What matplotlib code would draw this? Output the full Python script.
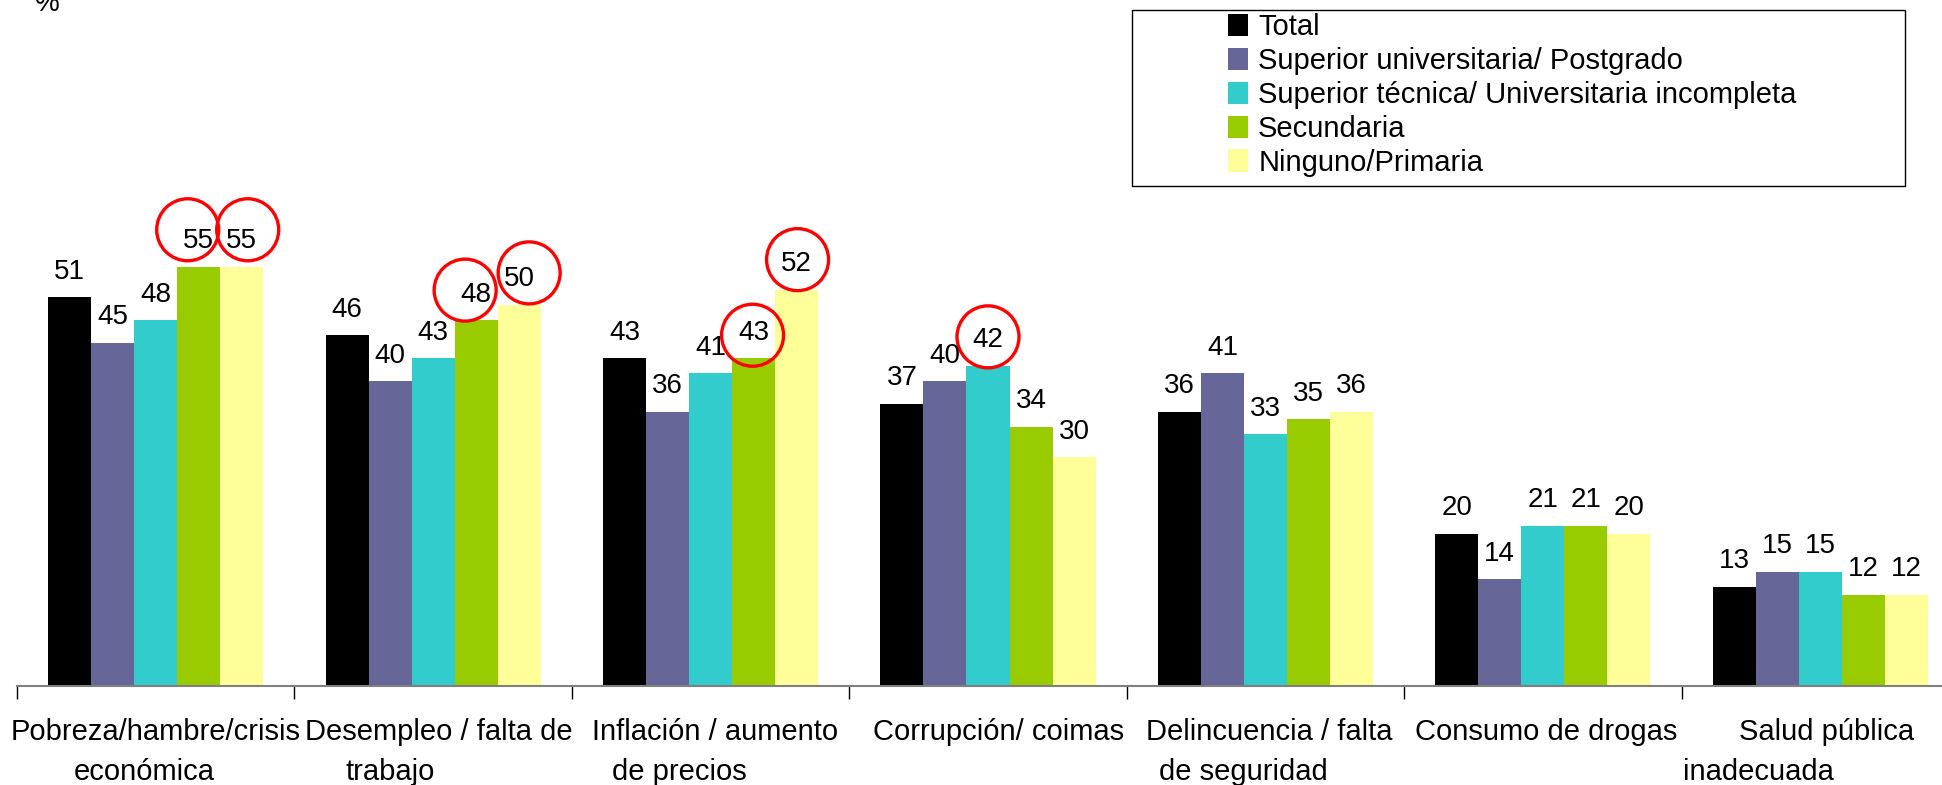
import matplotlib
matplotlib.use("Agg")
import matplotlib.pyplot as plt
import matplotlib.transforms as mtransforms
from matplotlib.patches import Rectangle, Circle
import numpy as np

plt.rcParams["font.family"] = ["Liberation Sans", "DejaVu Sans"]

# datos
categorias = [
    ["Pobreza/hambre/crisis", "económica"],
    ["Desempleo / falta de", "trabajo"],
    ["Inflación / aumento", "de precios"],
    ["Corrupción/ coimas"],
    ["Delincuencia / falta", "de seguridad"],
    ["Consumo de drogas"],
    ["Salud pública", "inadecuada"],
]
series = [
    "Total",
    "Superior universitaria/ Postgrado",
    "Superior técnica/ Universitaria incompleta",
    "Secundaria",
    "Ninguno/Primaria",
]
total = [51, 46, 43, 37, 36, 20, 13]
universitaria = [45, 40, 36, 40, 41, 14, 15]
tecnica = [48, 43, 41, 42, 33, 21, 15]
secundaria = [55, 48, 43, 34, 35, 21, 12]
primaria = [55, 50, 52, 30, 36, 20, 12]
# (categoria, serie) de los valores marcados con circulo rojo
marcados = [(0, 3), (0, 4), (1, 3), (1, 4), (2, 3), (2, 4), (3, 2)]

valores = [total, universitaria, tecnica, secundaria, primaria]
colores = ["#000000", "#666699", "#33CCCC", "#99CC00", "#FFFF99"]

W, H = 1942, 785
fig = plt.figure(figsize=(W / 100, H / 100), dpi=100)
base_px = 686
ax = fig.add_axes([17 / W, (H - base_px) / H, 1942 / W, base_px / H])

# centro de cada circulo respecto al tope de su barra (px)
desp_circ = [(-11, 37), (6, 37), (-11, 30), (10, 32), (-1, 23), (1, 30), (0, 29)]

ancho = 0.155
x = np.arange(len(categorias)) + 0.5
for i, (vals, col) in enumerate(zip(valores, colores)):
    pos = x + (i - 2) * ancho
    ax.bar(pos, vals, ancho, color=col, label=series[i], zorder=2)
    for j, v in enumerate(vals):
        ax.annotate(str(v), (pos[j], v), xytext=(0, 9), textcoords="offset points",
                    ha="center", va="bottom", fontsize=20, zorder=4)
        if (j, i) in marcados:
            dx, dy = desp_circ[marcados.index((j, i))]
            tr = fig.dpi_scale_trans + mtransforms.ScaledTranslation(pos[j], v, ax.transData)
            ax.add_patch(Circle((dx / 100, dy / 100), 0.31, transform=tr, fill=False,
                                ec="red", lw=2.4, clip_on=False, zorder=3))

ax.set_xlim(0, len(categorias))
ax.set_ylim(0, 90)
ax.set_xticks(np.arange(len(categorias) + 1))
ax.set_xticklabels([])
ax.tick_params(axis="x", direction="out", length=9, width=1, color="black")
ax.set_yticks([])
for s in ["top", "right", "left"]:
    ax.spines[s].set_visible(False)
ax.spines["bottom"].set_color("#808080")
ax.spines["bottom"].set_linewidth(1.5)

# etiquetas de categoria (desplazamientos en px por linea)
desp = [(0, -11), (6, -43), (4, -31), (11,), (4, -22), (3,), (6, -62)]
for j, lineas in enumerate(categorias):
    for k, txt in enumerate(lineas):
        ax.annotate(txt, (x[j], 0), xytext=(desp[j][k] * 0.72, -39 - 29 * k),
                    textcoords="offset points", ha="center", va="baseline",
                    fontsize=21, annotation_clip=False)

fig.text(35 / W, 1 - 11 / H, "%", fontsize=20, ha="left", va="baseline")

# leyenda
fig.patches.append(Rectangle((1132 / W, 1 - 186 / H), (1905 - 1132) / W, 176 / H,
                             transform=fig.transFigure, fill=False, ec="black", lw=1))
fig.legend(loc="center", bbox_to_anchor=(1512 / W, 1 - 95 / H), frameon=False,
           fontsize=21, handlelength=0.7, handleheight=0.8, handletextpad=0.35,
           labelspacing=0.2, borderpad=0)

fig.savefig("out.png", dpi=100)
